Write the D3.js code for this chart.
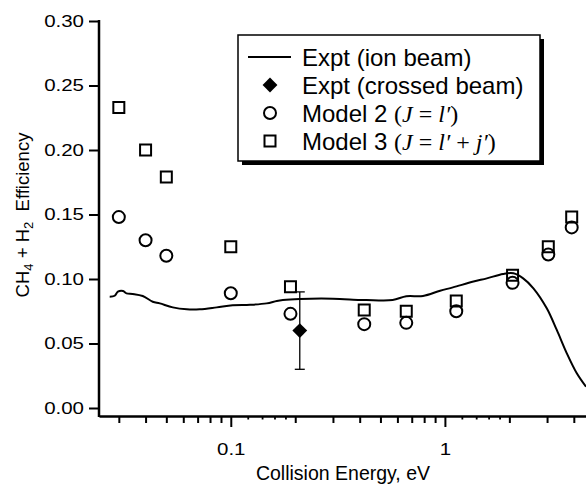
<!DOCTYPE html>
<html>
<head>
<meta charset="utf-8">
<script src="https://cdn.jsdelivr.net/npm/d3@7"></script>
<style>
  html, body { margin: 0; padding: 0; background: #fff; }
  svg { display: block; }
  text { font-family: "Liberation Sans", Arial, sans-serif; fill: #000; }
</style>
</head>
<body>
<svg id="chart" width="586" height="486"></svg>
<script>
// ---- data ----
const ionBeamEnergy = [0.0272, 0.0287, 0.0297, 0.0314, 0.0326, 0.0348, 0.0388, 0.0432, 0.0466, 0.0536, 0.0623, 0.0716, 0.086, 0.102, 0.123, 0.147, 0.164, 0.175, 0.21, 0.30, 0.40, 0.43, 0.57, 0.66, 0.79, 0.95, 1.09, 1.36, 1.57, 1.87, 2.09, 2.32, 2.59, 2.99, 3.33, 3.71, 4.13, 4.56];
const ionBeamEff    = [0.0863, 0.0870, 0.0902, 0.0907, 0.0889, 0.0884, 0.0868, 0.0824, 0.0811, 0.0780, 0.0765, 0.0765, 0.0780, 0.0796, 0.0800, 0.0811, 0.0830, 0.0837, 0.0845, 0.0847, 0.0837, 0.0837, 0.0837, 0.0866, 0.0868, 0.0909, 0.0935, 0.0980, 0.1005, 0.1039, 0.1044, 0.1005, 0.0928, 0.0773, 0.0605, 0.0424, 0.0269, 0.0165];

const crossedEnergy = [0.21];
const crossedEff    = [0.060];
const crossedErr    = [0.030];

const modelEnergy = [0.03, 0.04, 0.05, 0.10, 0.19, 0.42, 0.66, 1.13, 2.07, 3.04, 3.91];
const model2Eff   = [0.148, 0.130, 0.118, 0.089, 0.073, 0.065, 0.066, 0.075, 0.097, 0.119, 0.140];
const model3Eff   = [0.233, 0.200, 0.179, 0.125, 0.094, 0.076, 0.075, 0.083, 0.103, 0.125, 0.148];

const yTicks = [0.00, 0.05, 0.10, 0.15, 0.20, 0.25, 0.30];
const xMajorTicks = [0.1, 1];
const xMinorTicks = [0.03, 0.04, 0.05, 0.06, 0.07, 0.08, 0.09, 0.2, 0.3, 0.4, 0.5, 0.6, 0.7, 0.8, 0.9, 2, 3, 4];
const xSubTicks = [0.12, 0.14, 0.16, 0.18, 1.2, 1.4, 1.6, 1.8];

const legendLabels = ["Expt (ion beam)", "Expt (crossed beam)", "Model 2 ", "Model 3 "];

// ---- layout ----
const svg = d3.select("#chart");
const xLeft = 99, xRight = 586, yZero = 408, yTop = 21, xAxisY = 416;

const x = d3.scaleLog().domain([0.02424, 4.56]).range([xLeft, xRight]);
const y = d3.scaleLinear().domain([0, 0.30]).range([yZero, yTop]);

// ---- y axis ----
const yAxisG = svg.append("g").attr("transform", `translate(${xLeft},0)`)
  .call(d3.axisLeft(y).tickValues(yTicks).tickSize(10).tickSizeOuter(0).tickFormat(d3.format(".2f")));
yAxisG.select(".domain").remove();
yAxisG.selectAll(".tick line").attr("stroke", "#000").attr("stroke-width", 2);
yAxisG.selectAll(".tick text")
  .attr("x", 0).attr("dy", "0.34em")
  .attr("text-anchor", "end")
  .attr("font-size", 16)
  .attr("transform", "translate(-15,0) scale(1.28,1)");
svg.append("line")
  .attr("x1", xLeft).attr("x2", xLeft)
  .attr("y1", y(0.30) - 1).attr("y2", xAxisY + 1)
  .attr("stroke", "#000").attr("stroke-width", 2.5);

// ---- x axis ----
const xAxisG = svg.append("g").attr("transform", `translate(0,${xAxisY})`)
  .call(d3.axisBottom(x).tickValues(xMajorTicks).tickSize(11).tickSizeOuter(0).tickFormat(d3.format("")));
xAxisG.select(".domain").attr("stroke-width", 2.5);
xAxisG.selectAll(".tick line").attr("stroke-width", 2);
xAxisG.selectAll(".tick text")
  .attr("y", 0).attr("dy", 0)
  .attr("font-size", 16)
  .attr("text-anchor", "middle")
  .attr("transform", "translate(0,39) scale(1.28,1)");

const xMinorG = svg.append("g").attr("transform", `translate(0,${xAxisY})`)
  .call(d3.axisBottom(x).tickValues(xMinorTicks).tickSize(7).tickSizeOuter(0).tickFormat(""));
xMinorG.select(".domain").remove();
xMinorG.selectAll(".tick line").attr("stroke-width", 2);

const xSubG = svg.append("g").attr("transform", `translate(0,${xAxisY})`)
  .call(d3.axisBottom(x).tickValues(xSubTicks).tickSize(3.5).tickSizeOuter(0).tickFormat(""));
xSubG.select(".domain").remove();
xSubG.selectAll(".tick line").attr("stroke-width", 1.8);

// ---- axis titles ----
svg.append("text")
  .attr("x", 343).attr("y", 480)
  .attr("text-anchor", "middle")
  .attr("font-size", 19.5)
  .text("Collision Energy, eV");

const yl = svg.append("text")
  .attr("transform", "translate(29,215) rotate(-90)")
  .attr("text-anchor", "middle")
  .attr("font-size", 18.5);
yl.append("tspan").text("CH");
yl.append("tspan").attr("font-size", 13).attr("dy", 4).text("4");
yl.append("tspan").attr("dy", -4).text(" + H");
yl.append("tspan").attr("font-size", 13).attr("dy", 4).text("2");
yl.append("tspan").attr("dy", -4).text("\u00a0\u00a0Efficiency");

// ---- ion beam line ----
const lineData = ionBeamEnergy.map((e, i) => [e, ionBeamEff[i]]);
svg.append("path")
  .datum(lineData)
  .attr("fill", "none")
  .attr("stroke", "#000")
  .attr("stroke-width", 2)
  .attr("stroke-linejoin", "round")
  .attr("d", d3.line().x(d => x(d[0])).y(d => y(d[1])).curve(d3.curveCatmullRom));

// ---- symbols ----
const circleSym = d3.symbol().type(d3.symbolCircle).size(Math.PI * 36);
const squareSym = d3.symbol().type(d3.symbolSquare).size(121);
const diamondSym = d3.symbol().type(d3.symbolSquare).size(110);

svg.append("g").selectAll("path")
  .data(modelEnergy.map((e, i) => [e, model3Eff[i]]))
  .join("path")
  .attr("d", squareSym)
  .attr("transform", d => `translate(${x(d[0])},${y(d[1])})`)
  .attr("fill", "none").attr("stroke", "#000").attr("stroke-width", 2);

svg.append("g").selectAll("path")
  .data(modelEnergy.map((e, i) => [e, model2Eff[i]]))
  .join("path")
  .attr("d", circleSym)
  .attr("transform", d => `translate(${x(d[0])},${y(d[1])})`)
  .attr("fill", "none").attr("stroke", "#000").attr("stroke-width", 2);

// crossed beam with error bar
const cb = crossedEnergy.map((e, i) => ({ e, v: crossedEff[i], err: crossedErr[i] }));
const cbG = svg.append("g");
cb.forEach(d => {
  const cx = x(d.e);
  cbG.append("line").attr("x1", cx).attr("x2", cx).attr("y1", y(d.v + d.err)).attr("y2", y(d.v - d.err))
    .attr("stroke", "#000").attr("stroke-width", 1.3);
  [d.v + d.err, d.v - d.err].forEach(v => {
    cbG.append("line").attr("x1", cx - 5).attr("x2", cx + 5).attr("y1", y(v)).attr("y2", y(v))
      .attr("stroke", "#000").attr("stroke-width", 1.3);
  });
  cbG.append("path").attr("d", diamondSym)
    .attr("transform", `translate(${cx},${y(d.v)}) rotate(45)`)
    .attr("fill", "#000");
});

// ---- legend ----
const lg = svg.append("g");
const lx = 238, ly = 35, lw = 302, lh = 126;
lg.append("rect").attr("x", lx + 4).attr("y", ly + 4).attr("width", lw).attr("height", lh).attr("fill", "#000");
lg.append("rect").attr("x", lx).attr("y", ly).attr("width", lw).attr("height", lh)
  .attr("fill", "#fff").attr("stroke", "#000").attr("stroke-width", 1.5);

const rowY = i => 57 + i * 28;
const symX = 270, txtX = 302;

lg.append("line").attr("x1", 248).attr("x2", 291).attr("y1", rowY(0)).attr("y2", rowY(0))
  .attr("stroke", "#000").attr("stroke-width", 2);
lg.append("path").attr("d", diamondSym).attr("transform", `translate(${symX},${rowY(1)}) rotate(45)`).attr("fill", "#000");
lg.append("path").attr("d", circleSym).attr("transform", `translate(${symX},${rowY(2)})`)
  .attr("fill", "none").attr("stroke", "#000").attr("stroke-width", 2);
lg.append("path").attr("d", squareSym).attr("transform", `translate(${symX},${rowY(3)})`)
  .attr("fill", "none").attr("stroke", "#000").attr("stroke-width", 2);

const serif = '"Liberation Serif", "Times New Roman", serif';
legendLabels.forEach((lab, i) => {
  const t = lg.append("text").attr("x", txtX).attr("y", rowY(i) + 8.5).attr("font-size", 24)
    .attr("xml:space", "preserve");
  t.append("tspan").text(lab);
  if (i >= 2) {
    t.append("tspan").attr("font-family", serif).text("(");
    t.append("tspan").attr("font-family", serif).attr("font-style", "italic").text("J");
    t.append("tspan").attr("font-family", serif).text(" = ");
    t.append("tspan").attr("font-family", serif).attr("font-style", "italic").text("l\u2032");
    if (i === 3) {
      t.append("tspan").attr("font-family", serif).text(" + ");
      t.append("tspan").attr("font-family", serif).attr("font-style", "italic").text("j\u2032");
    }
    t.append("tspan").attr("font-family", serif).text(")");
  }
});
</script>
</body>
</html>
